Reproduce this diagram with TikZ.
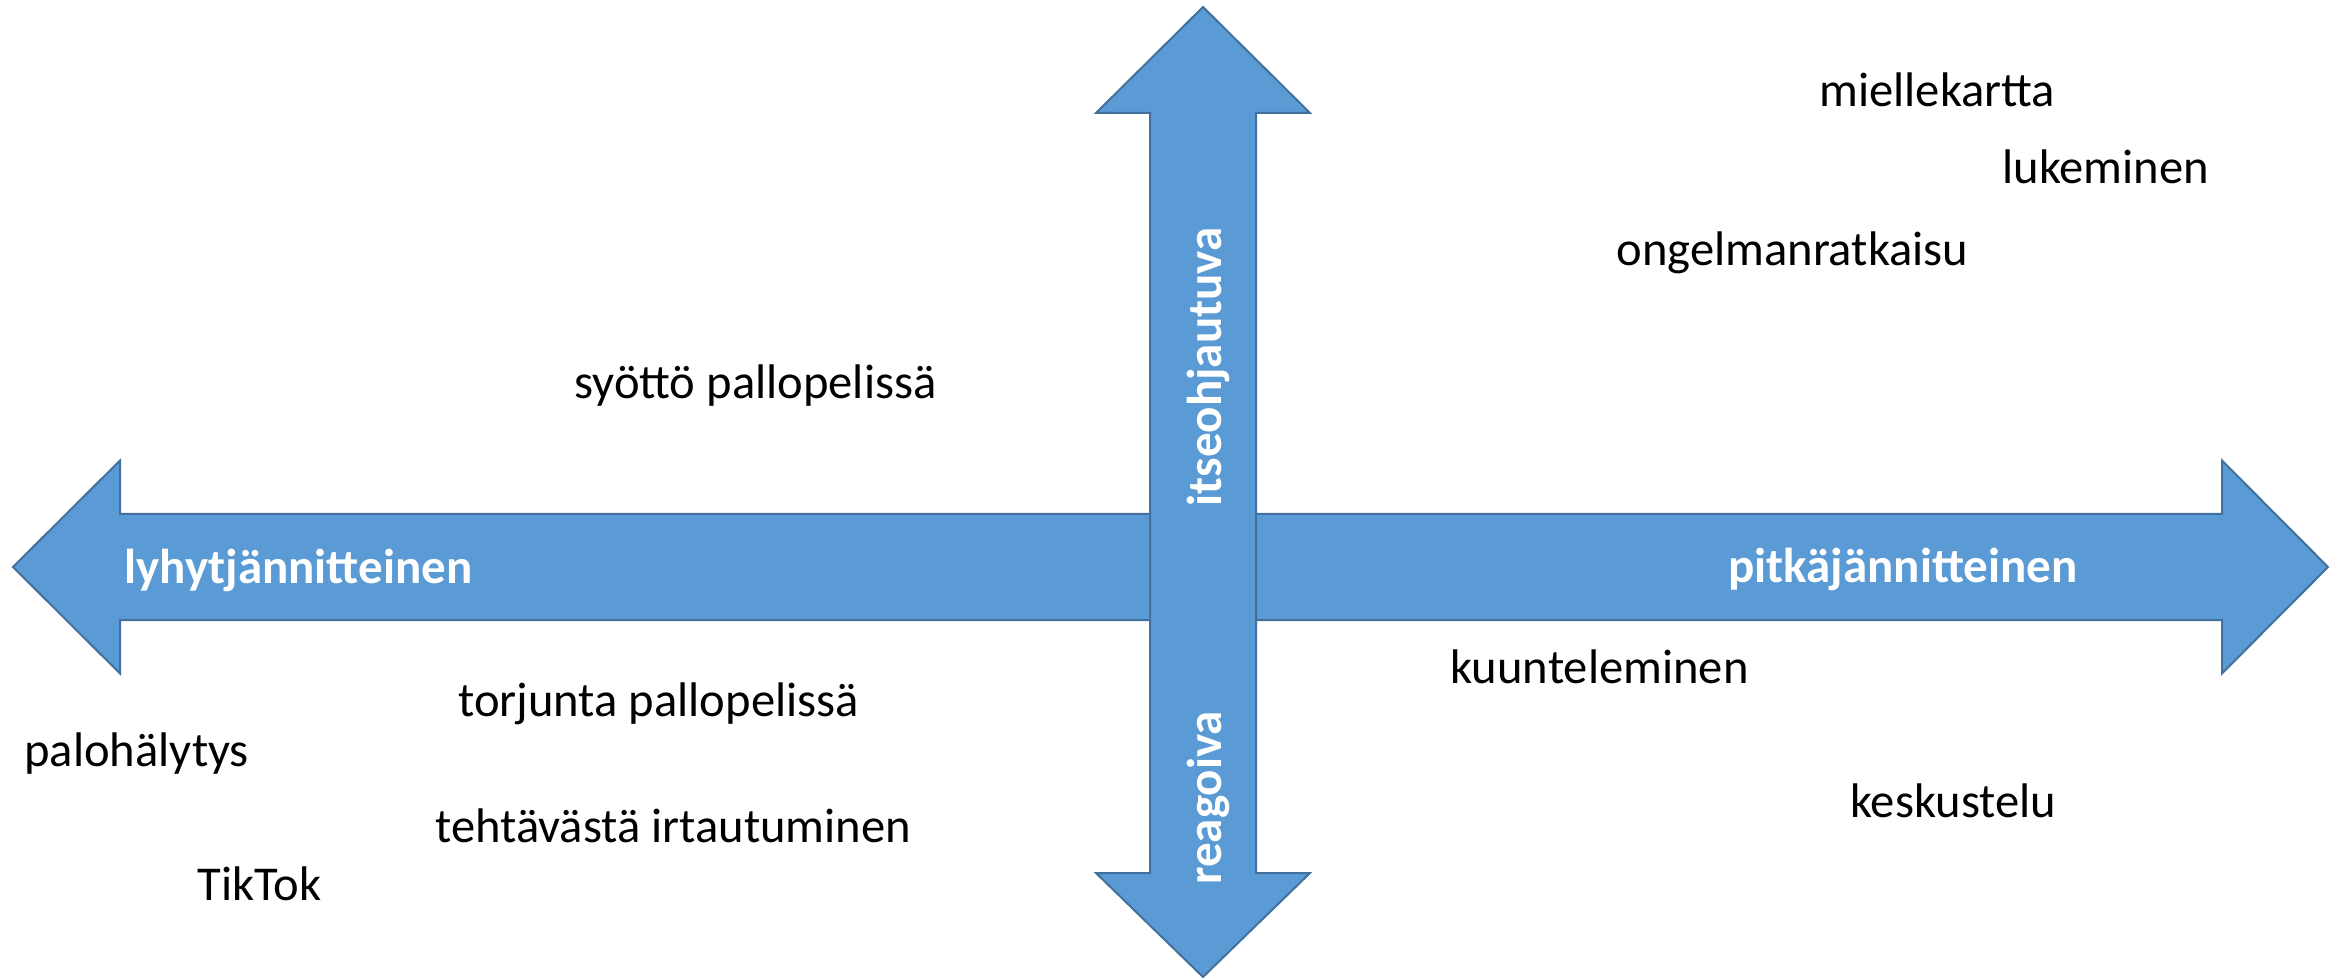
\documentclass[tikz,border=0pt]{standalone}
\usepackage{fontspec}
\setmainfont{Carlito}
\usepackage{xcolor}
\usepackage{tikz}
\usetikzlibrary{positioning}
\definecolor{axisfill}{HTML}{5B9BD5}
\definecolor{axisline}{HTML}{41719C}

\begin{document}
\begin{tikzpicture}[x=0.5pt,y=-0.5pt,
  axis/.style={fill=axisfill, draw=axisline, line width=1pt, line join=miter},
  axislabel/.style={text=white, font=\fontsize{24.5}{29}\selectfont\bfseries, inner sep=0pt, anchor=base west},
  item/.style={text=black, font=\fontsize{24.3}{29}\selectfont, inner sep=0pt, anchor=base west}]
\useasboundingbox (0,0) rectangle (2346,978);
% horizontal axis
\filldraw[axis] (13,567) -- (120,460.5) -- (120,514) -- (2222,514) -- (2222,460.5) -- (2328,567)
  -- (2222,673.5) -- (2222,620) -- (120,620) -- (120,673.5) -- cycle;
% vertical axis
\filldraw[axis] (1203,7) -- (1310,113) -- (1256,113) -- (1256,873) -- (1310,873) -- (1203,977)
  -- (1096,873) -- (1150,873) -- (1150,113) -- (1096,113) -- cycle;
\node[axislabel] (lyhyt) at (124,583) {lyhytjännitteinen};
\node[axislabel] (pitka) at (1728,582) {pitkäjännitteinen};
\node[axislabel, rotate=90] (itse) at (1221,507) {itseohjautuva};
\node[axislabel, rotate=90] (reag) at (1221,885) {reagoiva};
% activities
\node[item] (kartta) at (1819,107) {miellekartta};
\node[item] (lukem) at (2002,184) {lukeminen};
\node[item] (ongelma) at (1616,266) {ongelmanratkaisu};
\node[item] (syotto) at (574,399) {syöttö pallopelissä};
\node[item] (torjunta) at (458,716) {torjunta pallopelissä};
\node[item] (palo) at (24,766) {palohälytys};
\node[item] (irtaut) at (435,842) {tehtävästä irtautuminen};
\node[item] (tiktok) at (197,900) {TikTok};
\node[item] (kuunt) at (1450,683) {kuunteleminen};
\node[item] (kesk) at (1850,817) {keskustelu};
\end{tikzpicture}
\end{document}
